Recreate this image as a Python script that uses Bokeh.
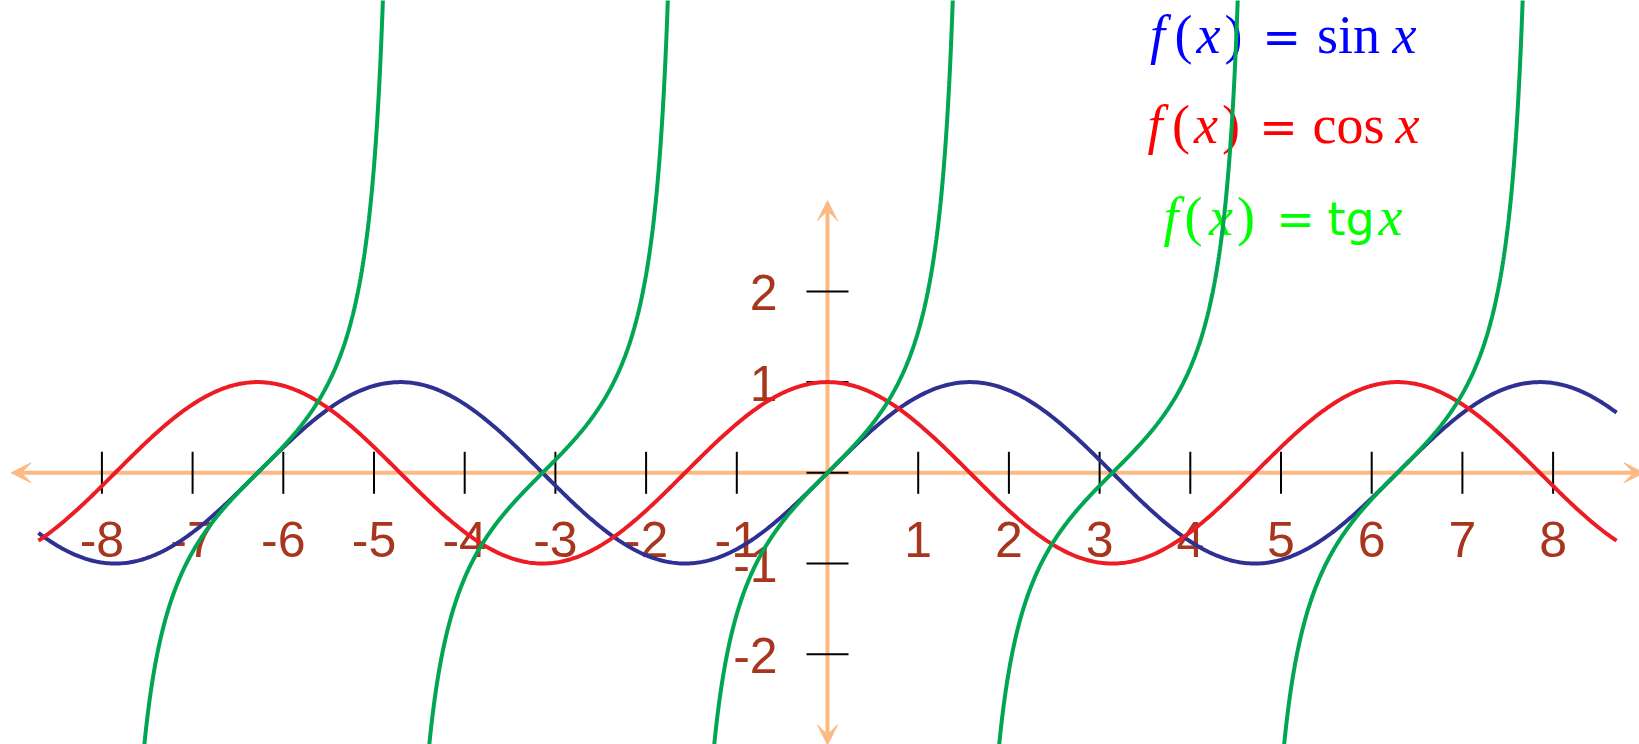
import numpy as np
from bokeh.plotting import figure
from bokeh.models import Range1d, Arrow, VeeHead, ColumnDataSource
from bokeh.core.properties import value
from bokeh.embed import file_html
from bokeh.resources import INLINE

# ---------------- data ----------------
curve_x_start = -8.7
curve_x_end = 8.7
tan_periods = [-2, -1, 0, 1, 2]          # branches of tg x, centred on k*pi
tan_y_low = -3.3
tan_y_high = 5.6

x_ticks = [-8, -7, -6, -5, -4, -3, -2, -1, 1, 2, 3, 4, 5, 6, 7, 8]
x_tick_labels = ["-8", "-7", "-6", "-5", "-4", "-3", "-2", "-1",
                 "1", "2", "3", "4", "5", "6", "7", "8"]
y_ticks = [-2, -1, 0, 1, 2]
y_labeled = [-2, -1, 1, 2]
y_tick_labels = ["-2", "-1", "1", "2"]

axis_x_extent = (-9, 9)
axis_y_extent = (-3, 3)

legend_sin = ["f", "(", "x", ")", "=", "sin", "x"]
legend_cos = ["f", "(", "x", ")", "=", "cos", "x"]
legend_tan = ["f", "(", "x", ")", "=", "tg", "x"]

# ---------------- layout / style ----------------
UNIT = 90.7            # px per unit
OX, OY = 827.0, 472.3  # origin in page pixels
PAGE = 0
W, H = 1639, 744

SIN_C = "#2E3192"
COS_C = "#ED1C24"
TAN_C = "#00A651"
AXIS_C = "#FDB983"
LABEL_C = "#A8361F"

LAB_SIZE = 50
LEG_SIZE = 54
LAB_FIX = 0.32        # baseline correction, in em
LEG_FIX = 0.29

p = figure(width=W, height=H,
           x_range=Range1d((PAGE - OX) / UNIT, (PAGE + W - OX) / UNIT),
           y_range=Range1d((OY - (PAGE + H)) / UNIT, (OY - PAGE) / UNIT),
           x_axis_type=None, y_axis_type=None,
           output_backend="svg", toolbar_location=None, min_border=0)
p.title.visible = False
p.grid.visible = False
p.outline_line_color = None
p.background_fill_color = "white"
p.border_fill_color = "white"

# axes with arrows (under everything)
def head():
    return VeeHead(size=20, fill_color=AXIS_C, line_color=AXIS_C, line_width=1)

xa = Arrow(x_start=axis_x_extent[0], y_start=0, x_end=axis_x_extent[1], y_end=0,
           line_color=AXIS_C, line_width=4, start=head(), end=head(), level="underlay")
ya = Arrow(x_start=0, y_start=axis_y_extent[0], x_end=0, y_end=axis_y_extent[1],
           line_color=AXIS_C, line_width=4, start=head(), end=head(), level="underlay")
p.add_layout(xa)
p.add_layout(ya)

# ticks
tick_half = 21 / UNIT
p.segment(x0=x_ticks, y0=[-tick_half] * len(x_ticks), x1=x_ticks, y1=[tick_half] * len(x_ticks),
          line_color="black", line_width=2)
p.segment(x0=[-tick_half] * len(y_ticks), y0=y_ticks, x1=[tick_half] * len(y_ticks), y1=y_ticks,
          line_color="black", line_width=2)

# tick labels
lab_fix = LAB_FIX * LAB_SIZE / UNIT
lab_font = value("Liberation Sans")
p.text(x=x_ticks, y=[-0.913 + lab_fix] * len(x_ticks), text=x_tick_labels,
       text_align="center", text_baseline="alphabetic",
       text_font=lab_font, text_font_size=f"{LAB_SIZE}px", text_color=LABEL_C)
p.text(x=[-0.55] * len(y_labeled), y=[v - 0.19 + lab_fix for v in y_labeled], text=y_tick_labels,
       text_align="right", text_baseline="alphabetic",
       text_font=lab_font, text_font_size=f"{LAB_SIZE}px", text_color=LABEL_C)

# legend (math-like pieces)
piece_style = ["italic", "normal", "italic", "normal", "normal", "normal", "italic"]
rows = [
    (legend_sin, "#0000FF", 4.656, [-123.5, -97.5, -72.5, -47.5, 0.5, 67.5, 123.5]),
    (legend_cos, "#FF0000", 3.664, [-126, -100, -75, -50, -2.5, 67.5, 126.5]),
    (legend_tan, "#00FF00", 2.653, [-110, -87.5, -60, -35, 14.5, 70, 109.5]),
]
lx, ly, lt, lc, lf, ls, lsz = [], [], [], [], [], [], []
for pieces, col, yb, offs in rows:
    for txt, st, dx in zip(pieces, piece_style, offs):
        if txt == "tg":
            font, style, size = "DejaVu Sans", "normal", 46
        elif txt == "=":
            font, style, size = "DejaVu Sans", "normal", 46
        else:
            font, style, size = "Liberation Serif", st, LEG_SIZE
        lx.append(5 + dx / UNIT)
        ly.append(yb + LEG_FIX * size / UNIT)
        lt.append(txt)
        lc.append(col)
        lf.append(font)
        ls.append(style)
        lsz.append(f"{size}px")
leg_src = ColumnDataSource(dict(x=lx, y=ly, text=lt, color=lc, font=lf, style=ls, size=lsz))
p.text(x="x", y="y", text="text", source=leg_src, text_color="color",
       text_font="font", text_font_style="style", text_font_size="size",
       text_align="center", text_baseline="alphabetic")

# curves
xs = np.linspace(curve_x_start, curve_x_end, 800)
p.line(xs, np.sin(xs), line_color=SIN_C, line_width=4)
p.line(xs, np.cos(xs), line_color=COS_C, line_width=4)
txs, tys = [], []
for k in tan_periods:
    t = np.linspace(k * np.pi + np.arctan(tan_y_low), k * np.pi + np.arctan(tan_y_high), 400)
    txs.append(t)
    tys.append(np.tan(t))
p.multi_line(txs, tys, line_color=TAN_C, line_width=4)

open("out.html", "w").write(file_html(p, INLINE))
